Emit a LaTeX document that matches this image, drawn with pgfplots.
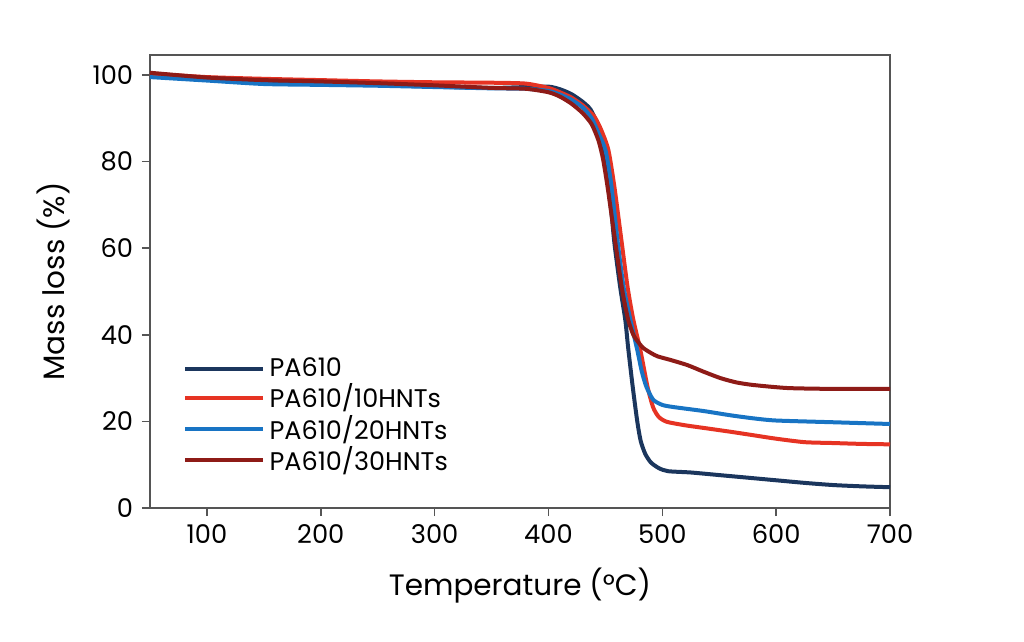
\documentclass[border=0pt]{standalone}
\usepackage{pgfplots}
\pgfplotsset{compat=1.18}
\usepackage{fontspec}
\setmainfont{Poppins}
\definecolor{navy}{HTML}{1B365D}
\definecolor{lred}{HTML}{E63323}
\definecolor{lblue}{HTML}{1874C4}
\definecolor{dred}{HTML}{8E1B17}
\definecolor{axgray}{HTML}{555555}

\begin{document}
\begin{tikzpicture}
\begin{axis}[
  scale only axis,
  width=296pt, height=181.2pt,
  xmin=50, xmax=700,
  ymin=0, ymax=104.6,
  xtick={100,200,...,700},
  ytick={0,20,...,100},
  tick pos=left,
  tick align=outside,
  major tick length=3.2pt,
  axis line style={axgray, line width=0.6pt},
  tick style={axgray, line width=0.6pt},
  ticklabel style={font=\fontsize{10.3}{12}\selectfont},
  /pgf/number format/assume math mode=true,
  xlabel={Temperature (°C)},
  ylabel={Mass loss (\%)},
  label style={font=\fontsize{11.8}{14}\selectfont},
  xlabel style={yshift=-2.8pt},
  ylabel style={yshift=2pt},
  legend style={at={(0.034,0.355)}, anchor=north west, draw=none, fill=none,
    font=\fontsize{10.2}{11}\selectfont, row sep=-2.6pt},
  legend cell align=left,
  legend image code/.code={\draw[#1, line width=1.6pt] (0pt,0pt) -- (31pt,0pt);},
  every axis plot/.append style={line width=1.6pt, smooth, tension=0.4},
]

\addplot[navy] coordinates {
(50,100.3) (75,99.7) (100,99.2) (150,98.3) (200,98.0) (250,97.7) (300,97.3)
(350,97.0) (380,97.2) (400,97.3) (410,96.7) (420,95.6) (430,93.8) (437,92.0)
(443,88.5) (447.4,83) (451,77) (455,69) (458,61) (463,51) (467.5,43.4)
(470,37) (474,28) (478,20) (481,15.5) (485,12.5) (490,10.5) (497,9.2)
(505,8.5) (525,8.2) (550,7.6) (575,7.0) (600,6.4) (625,5.8) (650,5.3)
(675,5.0) (700,4.8)
};
\addlegendentry{PA610}

\addplot[lred] coordinates {
(50,100.3) (100,99.5) (150,99.1) (200,98.8) (250,98.5) (300,98.3) (350,98.2)
(380,98.0) (400,97.0) (410,96.0) (420,94.8) (430,93.0) (440,90.5) (446,87.5)
(452.6,82.7) (458,74) (464,62) (469.5,51) (474.6,43.4) (480.7,36.5) (487,28)
(492,23.2) (497,21) (504,19.9) (520,19.1) (536,18.5) (560,17.6) (580,16.8)
(600,16.0) (625,15.2) (650,15.0) (675,14.8) (700,14.7)
};
\addlegendentry{PA610/10HNTs}

\addplot[lblue] coordinates {
(50,99.5) (100,98.7) (150,97.9) (200,97.7) (250,97.5) (300,97.2) (350,96.9)
(380,96.8) (400,96.3) (410,95.5) (420,94.3) (430,92.5) (438,90.0) (444,86.5)
(450,82.7) (455,75) (461,61) (466,51) (472,43.4) (478,36.5) (482,31.5)
(486,28) (492,25) (500,23.8) (510,23.3) (536,22.4) (560,21.4) (580,20.7)
(600,20.2) (650,19.8) (700,19.4)
};
\addlegendentry{PA610/20HNTs}

\addplot[dred] coordinates {
(50,100.5) (100,99.4) (150,98.8) (200,98.5) (250,98.1) (300,97.6) (350,97.0)
(380,96.8) (400,96.0) (410,95.0) (420,93.4) (430,91.2) (438,88.6) (444,84.8)
(448,80.5) (452,74) (456,66.5) (460,59) (465,50) (470,43.5) (474.5,40)
(478,38.6) (483,37) (490,35.8) (496,35.0) (507,34.2) (522,33.0) (536,31.5)
(551,30.0) (565,29.0) (580,28.4) (610,27.7) (650,27.5) (700,27.5)
};
\addlegendentry{PA610/30HNTs}

\end{axis}
\path ([shift={(-60pt,-53.6pt)}]current axis.south west) rectangle
      ([shift={(53.6pt,22pt)}]current axis.north east);
\end{tikzpicture}
\end{document}
